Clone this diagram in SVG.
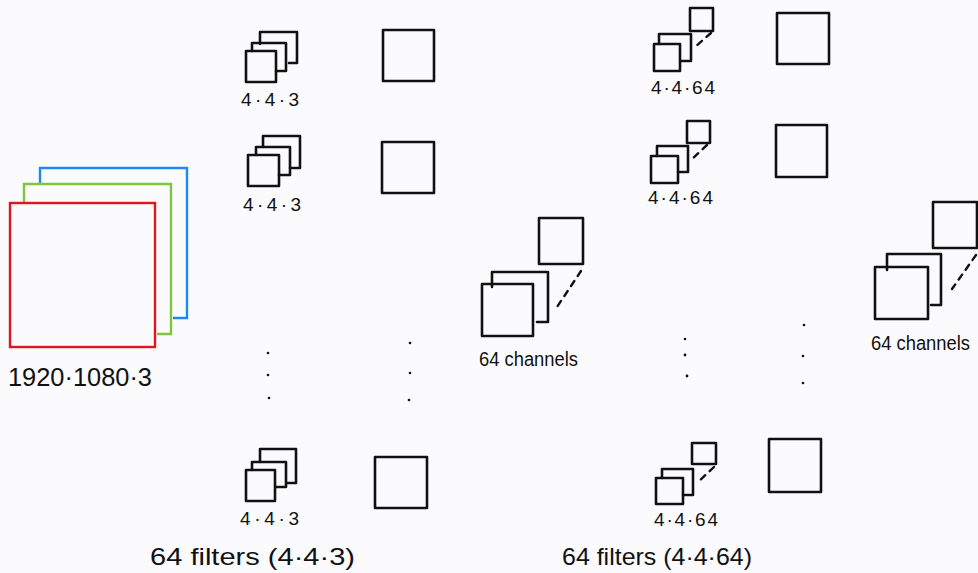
<svg xmlns="http://www.w3.org/2000/svg" width="978" height="573" viewBox="0 0 978 573">
<style>
.bg{fill:#fbfbfd}
.k{fill:none;stroke:#111;stroke-width:2.6;stroke-linejoin:round;stroke-linecap:round}
.d{fill:none;stroke:#111;stroke-width:2.4;stroke-dasharray:6 6;stroke-linecap:round}
.r{fill:none;stroke:#e0161e;stroke-width:2.4}
.g{fill:none;stroke:#80c63c;stroke-width:2.4}
.b{fill:none;stroke:#1c8af0;stroke-width:2.4}
.dot{fill:#111}
text{font-family:"Liberation Sans","DejaVu Sans",sans-serif;fill:#111}
.s{font-size:19px}
.m{font-size:24px}
.c{font-size:20px}
.l{font-size:26px}
</style>
<rect class="bg" x="0" y="0" width="978" height="573"/>

<g id="input">
<path class="b" d="M40,185 V168 H187 V318 H173"/>
<path class="g" d="M24,203 V184 H171 V334 H157"/>
<rect class="r" x="10" y="203" width="145" height="144"/>
<text class="l" x="8" y="386" textLength="144" lengthAdjust="spacingAndGlyphs">1920·1080·3</text>
</g>

<g id="filter1">
<path class="k" d="M260,44 V32 H297 V63 H289"/>
<path class="k" d="M252,51 V43 H286 V71 H276"/>
<rect class="k" x="246" y="51" width="30" height="31"/>
<text class="s" x="241" y="106" textLength="58" lengthAdjust="spacing">4·4·3</text>
</g>
<g id="out1"><rect class="k" x="383" y="30" width="51" height="51"/></g>

<g id="filter2">
<path class="k" d="M263,147 V136 H300 V168 H290"/>
<path class="k" d="M256,155 V147 H290 V175 H279"/>
<rect class="k" x="248" y="155" width="31" height="31"/>
<text class="s" x="243" y="211" textLength="58" lengthAdjust="spacing">4·4·3</text>
</g>
<g id="out2"><rect class="k" x="382" y="142" width="52" height="51"/></g>

<g id="dots1">
<circle class="dot" cx="268" cy="353" r="1.3"/>
<circle class="dot" cx="268" cy="375" r="1.3"/>
<circle class="dot" cx="269" cy="398" r="1.3"/>
<circle class="dot" cx="410" cy="343" r="1.3"/>
<circle class="dot" cx="410" cy="373" r="1.3"/>
<circle class="dot" cx="409" cy="400" r="1.3"/>
</g>

<g id="filter3">
<path class="k" d="M260,462 V449 H296 V483 H287"/>
<path class="k" d="M252,470 V462 H286 V487 H276"/>
<rect class="k" x="246" y="470" width="29" height="31"/>
<text class="s" x="240" y="525" textLength="59" lengthAdjust="spacing">4·4·3</text>
</g>
<g id="out3"><rect class="k" x="375" y="457" width="52" height="51"/></g>

<text class="m" x="150" y="565" textLength="205" lengthAdjust="spacingAndGlyphs">64 filters (4·4·3)</text>

<g id="channels1">
<rect class="k" x="539" y="218" width="44" height="46"/>
<path class="k" d="M492,287 V272 H548 V322 H537"/>
<rect class="k" x="482" y="284" width="51" height="52"/>
<text class="c" x="479" y="366" textLength="99" lengthAdjust="spacingAndGlyphs">64 channels</text>
</g>

<g id="filter4">
<rect class="k" x="690" y="8" width="23" height="23"/>
<path class="k" d="M659,44 V34 H691 V61 H681"/>
<rect class="k" x="654" y="44" width="26" height="27"/>
<text class="s" x="651" y="94" textLength="64" lengthAdjust="spacing">4·4·64</text>
</g>
<g id="out4"><rect class="k" x="777" y="13" width="52" height="51"/></g>

<g id="filter5">
<rect class="k" x="687" y="121" width="23" height="22"/>
<path class="k" d="M657,156 V146 H688 V172 H678"/>
<rect class="k" x="651" y="156" width="27" height="27"/>
<text class="s" x="648" y="204" textLength="65" lengthAdjust="spacing">4·4·64</text>
</g>
<g id="out5"><rect class="k" x="776" y="125" width="51" height="52"/></g>

<g id="dots2">
<circle class="dot" cx="685" cy="339" r="1.3"/>
<circle class="dot" cx="685" cy="355" r="1.4"/>
<circle class="dot" cx="687" cy="376" r="1.4"/>
<circle class="dot" cx="804" cy="325" r="1.3"/>
<circle class="dot" cx="803" cy="356" r="1.3"/>
<circle class="dot" cx="803" cy="383" r="1.3"/>
</g>

<g id="filter6">
<rect class="k" x="692" y="443" width="24" height="21"/>
<path class="k" d="M662,478 V469 H693 V495 H683"/>
<rect class="k" x="656" y="478" width="27" height="26"/>
<text class="s" x="654" y="526" textLength="64" lengthAdjust="spacing">4·4·64</text>
</g>
<g id="out6"><rect class="k" x="769" y="439" width="52" height="53"/></g>

<text class="m" x="562" y="565" textLength="190" lengthAdjust="spacingAndGlyphs">64 filters (4·4·64)</text>

<g id="channels2">
<rect class="k" x="933" y="202" width="44" height="46"/>
<path class="k" d="M887,270 V254 H941 V305 H931"/>
<rect class="k" x="875" y="267" width="53" height="52"/>
<text class="c" x="871" y="350" textLength="99" lengthAdjust="spacingAndGlyphs">64 channels</text>
</g>

<g id="connectors">
<line class="d" x1="581" y1="271" x2="557" y2="307"/>
<line class="d" x1="711" y1="33" x2="695" y2="47"/>
<line class="d" x1="707" y1="145" x2="691" y2="160"/>
<line class="d" x1="714" y1="467" x2="697" y2="483"/>
<line class="d" x1="976" y1="255" x2="952" y2="289"/>
</g>
</svg>
